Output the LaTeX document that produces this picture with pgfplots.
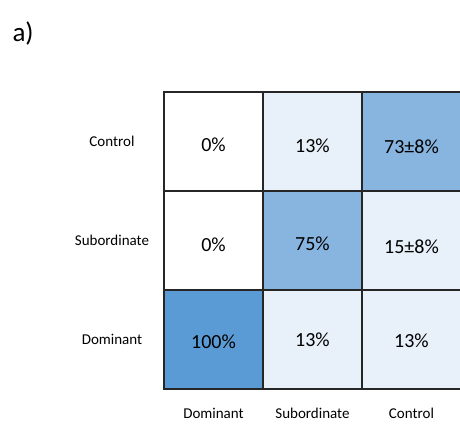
\documentclass[border=0pt]{standalone}
\usepackage{fontspec}
\setmainfont{Carlito}
\usepackage{pgfplots}
\pgfplotsset{compat=1.18}
\definecolor{cellframe}{HTML}{262626}

\begin{document}
\begin{tikzpicture}
\useasboundingbox (-164pt,-36pt) rectangle (296pt,389pt);
\begin{axis}[at={(0pt,0pt)},anchor=south west,scale only axis,width=297pt,height=297pt,
  xmin=-0.5,xmax=2.5,ymin=-0.5,ymax=2.5,
  xtick={0,1,2},xticklabels={Dominant,Subordinate,Control},
  ytick={0,1,2},yticklabels={Dominant,Subordinate,Control},
  major tick length=0pt,
  tick label style={font=\fontsize{15}{18}\selectfont},
  xticklabel style={anchor=center,yshift=-24pt},
  yticklabel style={anchor=center,xshift=-52pt},
  axis line style={cellframe,line width=1.2pt},
  colormap={cells}{rgb255=(255,255,255) rgb255=(232,240,250) rgb255=(136,180,224) rgb255=(91,155,213)},
  colormap access=direct]
\addplot[matrix plot*,mesh/cols=3,point meta=explicit,draw=cellframe,line width=1.1pt] table[meta=c] {
x y c
0 0 3
1 0 1
2 0 1
0 1 0
1 1 2
2 1 1
0 2 0
1 2 1
2 2 2
};
\addplot[only marks,mark=none,point meta=explicit symbolic,nodes near coords,
  nodes near coords align={center},
  every node near coord/.style={font=\fontsize{20}{24}\selectfont,anchor=center,text=black}]
  table[meta=lab,col sep=comma] {
x,y,lab
0,-0.025,100\%
1,-0.005,13\%
2,-0.015,13\%
0,0.955,0\%
1,0.965,75\%
2,0.934,15±8\%
0,1.965,0\%
1,1.955,13\%
2,1.945,73±8\%
};
\end{axis}
\node[anchor=base west,font=\fontsize{27}{32}\selectfont] at (-155pt,347pt) {a)};
\end{tikzpicture}
\end{document}
